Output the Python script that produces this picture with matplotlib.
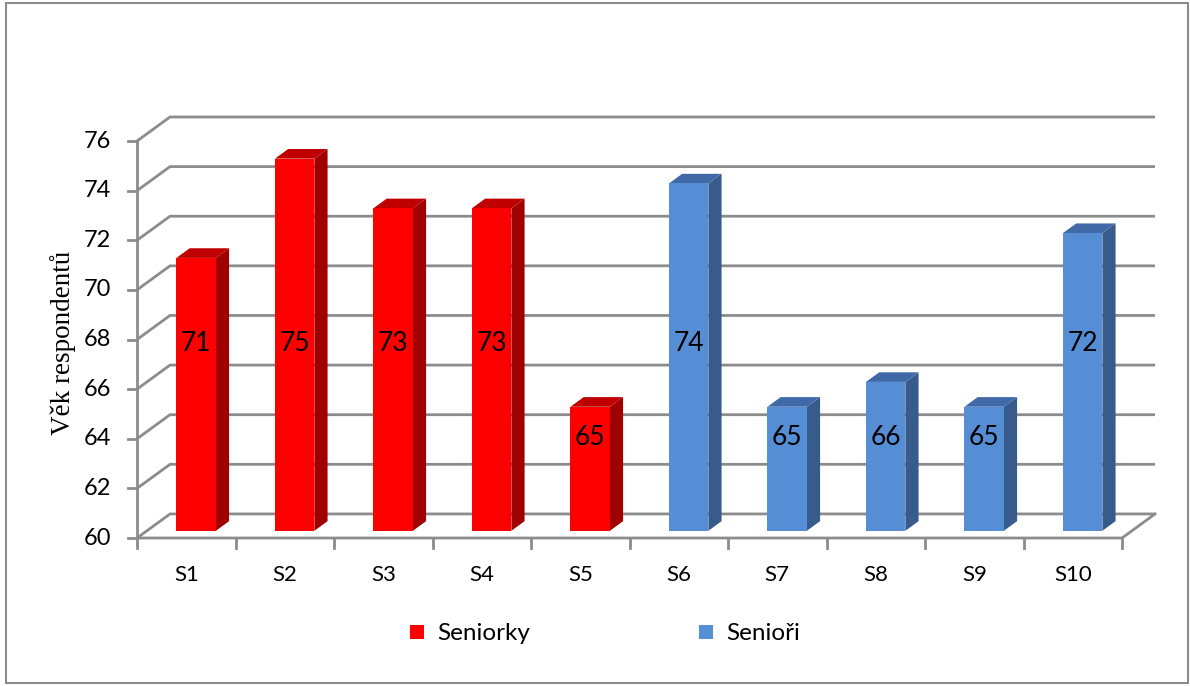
import numpy as np
import matplotlib
matplotlib.use("Agg")
import matplotlib.pyplot as plt
from matplotlib.patches import Polygon, Rectangle

categories = ["S1", "S2", "S3", "S4", "S5", "S6", "S7", "S8", "S9", "S10"]
values = [71, 75, 73, 73, 65, 74, 65, 66, 65, 72]
groups = ["Seniorky"] * 5 + ["Senioři"] * 5
yticks = [60, 62, 64, 66, 68, 70, 72, 74, 76]

# front / top / side shades for each group
colors = {
    "Seniorky": ("#FF0000", "#C00000", "#A00000"),
    "Senioři": ("#558ED5", "#4169A8", "#375C8C"),
}

YMIN, YMAX = 60, 76
DX, DY = 0.335, 0.97      # oblique depth offset (category units, value units)
Z0, Z1 = 0.3, 0.7          # bar depth within the floor
W0, W1 = 0.3, 0.7          # bar width within a category
GRID = "#8C8C8C"

plt.rcParams['font.family'] = ['Lato', 'DejaVu Sans']

fig = plt.figure(figsize=(11.9, 6.86), dpi=100)
ax = fig.add_axes([0, 0, 1, 1])
ax.set_xlim(-1.391, 10.690)
ax.set_ylim(54.035, 81.685)
ax.axis("off")


def P(x, v, z):
    # project a (category, value, depth) point onto the page
    return (x + z * DX, v + z * DY)


n = len(categories)

# back wall gridlines with the diagonal on the left wall
for t in yticks:
    xs, ys = zip(P(0, t, 0), P(0, t, 1), P(n, t, 1))
    ax.plot(xs, ys, color=GRID, lw=2, solid_capstyle="butt", zorder=1)

# floor front edge and right edge
xs, ys = zip(P(0, YMIN, 0), P(n, YMIN, 0), P(n, YMIN, 1))
ax.plot(xs, ys, color=GRID, lw=2, zorder=1)

# value axis
ax.plot([0, 0], [YMIN, YMAX], color=GRID, lw=2, zorder=1)
for t in yticks:
    ax.plot([-0.09, 0], [t, t], color=GRID, lw=2, zorder=1)
    ax.text(-0.26, t, str(t), ha="right", va="center", fontsize=17, color="black")

# category ticks and labels
for i in range(n + 1):
    ax.plot([i, i], [YMIN, YMIN - 0.4], color=GRID, lw=2, zorder=1)
for i, c in enumerate(categories):
    ax.text(i + 0.5, YMIN - 1.5, c, ha="center", va="center", fontsize=16)

# bars
for i, (v, g) in enumerate(zip(values, groups)):
    front, top, side = colors[g]
    x0, x1 = i + W0, i + W1
    ax.add_patch(Polygon([P(x1, YMIN, Z0), P(x1, v, Z0), P(x1, v, Z1), P(x1, YMIN, Z1)],
                         closed=True, facecolor=side, edgecolor="none", zorder=3))
    ax.add_patch(Polygon([P(x0, v, Z0), P(x1, v, Z0), P(x1, v, Z1), P(x0, v, Z1)],
                         closed=True, facecolor=top, edgecolor="none", zorder=3))
    fx, fy = P(x0, YMIN, Z0)
    fx1, fv = P(x1, v, Z0)
    ax.add_patch(Rectangle((fx, fy), fx1 - fx, fv - fy, facecolor=front,
                           edgecolor="none", zorder=4))
    # value label on the front face
    ly = 67.85 if v >= 70 else 64.06
    ax.text((fx + fx1) / 2, ly, str(v), ha="center", va="center", fontsize=19, zorder=5)

ax.text(-0.755, 67.86, "Věk respondentů", rotation=90, ha="center", va="center",
        fontsize=19.5, family=["Liberation Serif", "DejaVu Serif"])

# legend
for label, lx in [("Seniorky", 410), ("Senioři", 699)]:
    fig.patches.append(Rectangle((lx / 1190, 1 - 639 / 686), 14 / 1190, 14 / 686,
                                 transform=fig.transFigure, facecolor=colors[label][0],
                                 edgecolor="none"))
    fig.text((lx + 27) / 1190, 1 - 633 / 686, label, ha="left", va="center", fontsize=17.5)

# outer frame
fig.patches.append(Rectangle((6 / 1190, 3 / 686), 1182 / 1190, 680 / 686,
                             transform=fig.transFigure, facecolor="none",
                             edgecolor="#8C8C8C", lw=1.5))

fig.savefig("out.png", dpi=100)
